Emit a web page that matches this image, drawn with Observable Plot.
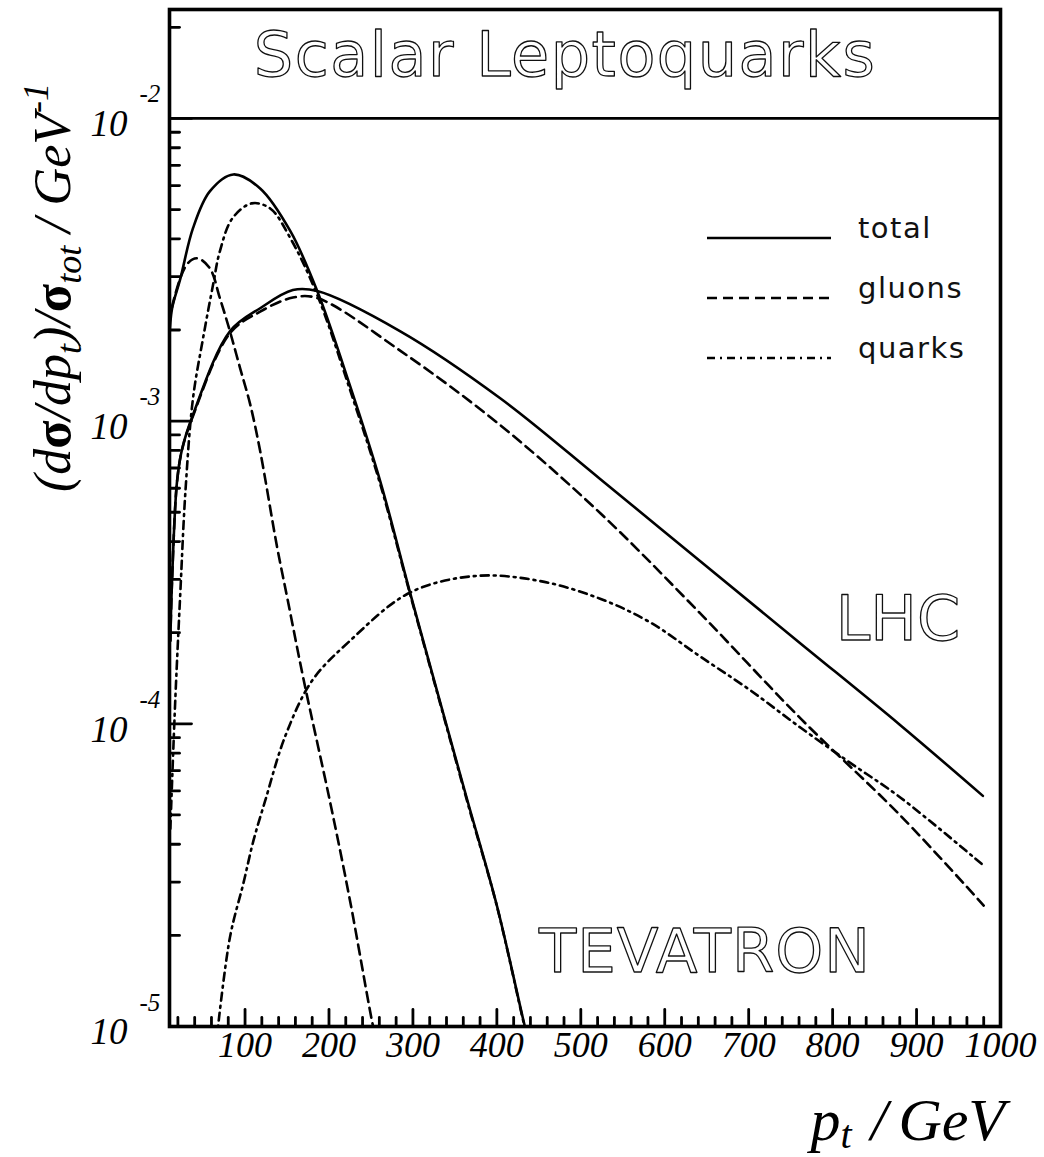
<!DOCTYPE html>
<html>
<head>
<meta charset="utf-8">
<script src="https://cdn.jsdelivr.net/npm/d3@7"></script>
<script src="https://cdn.jsdelivr.net/npm/@observablehq/plot@0.6"></script>
<style>
  html, body { margin: 0; padding: 0; background: #fff; }
  #chart svg { display: block; }
</style>
</head>
<body>
<div id="chart"></div>
<script>
// Transverse-momentum spectra of scalar leptoquark pairs, normalised to the
// total cross section, at the Tevatron and the LHC (pt in GeV).

// Tevatron: total
const tevTotalPt  = [10, 13, 23, 38, 58, 86, 118, 154, 186, 225, 261, 296, 332, 365, 400, 433, 440];
const tevTotalVal = [1.91e-3, 2.35e-3, 2.96e-3, 4.34e-3, 5.74e-3, 6.53e-3, 5.87e-3, 4.24e-3, 2.69e-3, 1.31e-3, 6.34e-4, 2.75e-4, 1.19e-4, 5.57e-5, 2.51e-5, 1.01e-5, 8.5e-6];
// Tevatron: gluon-initiated part
const tevGluonPt  = [10, 14, 31, 43, 58, 70, 82, 94, 106, 118, 138, 151, 170, 201, 225, 251, 258];
const tevGluonVal = [2.1e-3, 2.45e-3, 3.30e-3, 3.45e-3, 3.20e-3, 2.55e-3, 1.98e-3, 1.50e-3, 1.14e-3, 7.96e-4, 3.86e-4, 2.55e-4, 1.39e-4, 5.57e-5, 2.61e-5, 1.05e-5, 8.5e-6];
// Tevatron: quark-initiated part
const tevQuarkPt  = [11, 17, 23, 29, 38, 50, 62, 70, 85, 108, 130, 154, 186, 225, 261, 296, 332, 365, 400, 433, 440];
const tevQuarkVal = [4.5e-5, 1.22e-4, 2.75e-4, 5.87e-4, 1.19e-3, 1.88e-3, 2.83e-3, 3.64e-3, 4.68e-3, 5.24e-3, 5.04e-3, 4.02e-3, 2.61e-3, 1.27e-3, 6.2e-4, 2.72e-4, 1.18e-4, 5.5e-5, 2.5e-5, 1.0e-5, 8.4e-6];

// LHC: total
const lhcTotalPt  = [11, 13, 19, 25, 38, 82, 118, 157, 186, 285, 404, 523, 642, 761, 880, 979];
const lhcTotalVal = [1.88e-4, 2.96e-4, 6.34e-4, 8.09e-4, 1.05e-3, 1.98e-3, 2.36e-3, 2.71e-3, 2.69e-3, 1.98e-3, 1.19e-3, 6.44e-4, 3.45e-4, 1.85e-4, 9.93e-5, 5.78e-5];
// LHC: gluon-initiated part
const lhcGluonPt  = [11, 13, 19, 25, 38, 82, 118, 157, 186, 286, 404, 523, 642, 762, 881, 980];
const lhcGluonVal = [1.88e-4, 2.96e-4, 6.3e-4, 8.05e-4, 1.04e-3, 1.95e-3, 2.30e-3, 2.56e-3, 2.55e-3, 1.70e-3, 9.70e-4, 4.97e-4, 2.32e-4, 1.04e-4, 4.97e-5, 2.51e-5];
// LHC: quark-initiated part
const lhcQuarkPt  = [66, 82, 98, 110, 124, 148, 180, 225, 296, 375, 452, 523, 583, 642, 702, 762, 821, 881, 980];
const lhcQuarkVal = [9.0e-6, 1.97e-5, 2.97e-5, 4.11e-5, 5.57e-5, 9.12e-5, 1.39e-4, 1.88e-4, 2.71e-4, 3.08e-4, 2.96e-4, 2.59e-4, 2.16e-4, 1.67e-4, 1.29e-4, 9.70e-5, 7.43e-5, 5.70e-5, 3.40e-5];

// Axis ticks
const xMajor = [100, 200, 300, 400, 500, 600, 700, 800, 900];
const xLabels = [100, 200, 300, 400, 500, 600, 700, 800, 900, 1000];
const xMinor = d3.range(20, 1000, 20).filter(v => v % 100 !== 0);
const yDecades = [1e-5, 1e-4, 1e-3, 1e-2];
const yExponents = ["-5", "-4", "-3", "-2"];
const yMinor = [];
for (const d of [1e-5, 1e-4, 1e-3, 1e-2]) for (let k = 2; k <= 9; k++) if (d * k < 0.0229) yMinor.push(d * k);

const curveSeries = [
  {pt: tevTotalPt, val: tevTotalVal, dash: null},
  {pt: tevGluonPt, val: tevGluonVal, dash: "10,6"},
  {pt: tevQuarkPt, val: tevQuarkVal, dash: "8,5,2,5"},
  {pt: lhcTotalPt, val: lhcTotalVal, dash: null},
  {pt: lhcGluonPt, val: lhcGluonVal, dash: "10,6"},
  {pt: lhcQuarkPt, val: lhcQuarkVal, dash: "8,5,2,5"}
];

const serif = "'Liberation Serif', 'Times New Roman', serif";

// A short straight stroke used for the inward-pointing tick marks
const tickShape = {draw(context, l) { context.moveTo(0, 0); context.lineTo(0, -l); }};

const lineMarks = curveSeries.map(s =>
  Plot.line(s.pt.map((p, i) => ({pt: p, v: s.val[i]})), {
    x: "pt", y: "v", curve: "catmull-rom", stroke: "#000", strokeWidth: 2.6,
    strokeDasharray: s.dash, clip: true
  })
);

const chart = Plot.plot({
  width: 1044,
  height: 1157,
  marginLeft: 169,
  marginRight: 44,
  marginTop: 9,
  marginBottom: 131,
  x: {domain: [10, 1000], axis: null},
  y: {type: "log", domain: [1e-5, 0.0229], axis: null},
  style: {background: "#fff", color: "#000"},
  marks: [
    ...lineMarks,
    Plot.ruleY([1e-2], {stroke: "#000", strokeWidth: 2.6}),
    // x ticks (pointing up into the frame)
    Plot.vector(xMajor, {x: d => d, frameAnchor: "bottom", length: 17, anchor: "start", shape: tickShape, stroke: "#000", strokeWidth: 2.8}),
    Plot.vector(xMinor, {x: d => d, frameAnchor: "bottom", length: 9, anchor: "start", shape: tickShape, stroke: "#000", strokeWidth: 2.8}),
    // y ticks (pointing right into the frame)
    Plot.vector(yDecades, {y: d => d, frameAnchor: "left", length: 22, rotate: 90, anchor: "start", shape: tickShape, stroke: "#000", strokeWidth: 2.8}),
    Plot.vector(yMinor, {y: d => d, frameAnchor: "left", length: 10, rotate: 90, anchor: "start", shape: tickShape, stroke: "#000", strokeWidth: 2.8}),
    Plot.frame({stroke: "#000", strokeWidth: 3.6}),
    // tick labels
    Plot.text(xLabels, {x: d => d, frameAnchor: "bottom", dy: 30, text: d => String(d), fontFamily: serif, fontStyle: "italic", fontSize: 36, fill: "#000"}),
    Plot.text(yDecades, {y: d => d, frameAnchor: "left", dx: -42, dy: 6, textAnchor: "end", text: () => "10", fontFamily: serif, fontStyle: "italic", fontSize: 37, fill: "#000"}),
    Plot.text(yDecades, {y: d => d, frameAnchor: "left", dx: -30, dy: -24, textAnchor: "start", text: (d, i) => yExponents[i], fontFamily: serif, fontStyle: "italic", fontSize: 25, fill: "#000"})
  ]
});

document.getElementById("chart").appendChild(chart);

// Annotations: title, labels, legend and axis titles
const svg = d3.select(chart);
const outlined = sel => sel
  .attr("font-family", "'DejaVu Sans', 'Noto Sans', sans-serif")
  .attr("fill", "#fff").attr("stroke", "#111").attr("stroke-width", 1.3)
  .attr("stroke-linejoin", "round");

svg.append("text").call(outlined)
  .attr("x", 565).attr("y", 76).attr("text-anchor", "middle").attr("font-size", 62)
  .attr("letter-spacing", 1.5)
  .text("Scalar Leptoquarks");
svg.append("text").call(outlined)
  .attr("x", 898).attr("y", 640).attr("text-anchor", "middle").attr("font-size", 62)
  .text("LHC");
svg.append("text").call(outlined)
  .attr("x", 705).attr("y", 972).attr("text-anchor", "middle").attr("font-size", 61)
  .attr("letter-spacing", 1)
  .text("TEVATRON");

const legendRows = [
  {label: "total", dash: null, y: 238},
  {label: "gluons", dash: "10,6", y: 298},
  {label: "quarks", dash: "8,5,2,5", y: 358}
];
const lg = svg.append("g");
legendRows.forEach(r => {
  lg.append("line").attr("x1", 707).attr("x2", 831).attr("y1", r.y).attr("y2", r.y)
    .attr("stroke", "#000").attr("stroke-width", 2.6).attr("stroke-dasharray", r.dash);
  lg.append("text").attr("x", 858).attr("y", r.y).attr("text-anchor", "start")
    .attr("font-family", "'DejaVu Sans', sans-serif").attr("font-size", 29)
    .attr("letter-spacing", 1.5).attr("fill", "#111")
    .text(r.label);
});

// x-axis title: p_t / GeV
const xt = svg.append("text").attr("x", 1005).attr("y", 1140).attr("text-anchor", "end")
  .attr("font-family", serif).attr("font-style", "italic").attr("font-size", 60).attr("fill", "#000");
xt.append("tspan").text("p");
xt.append("tspan").attr("dy", 8).attr("font-size", 40).text("t");
xt.append("tspan").attr("dy", -8).attr("dx", 4).text(" / ");
xt.append("tspan").attr("dx", -4).text("GeV");

// y-axis title: (dσ/dp_t)/σ_tot / GeV^-1
const yt = svg.append("text").attr("transform", "translate(70,492) rotate(-90)").attr("text-anchor", "start")
  .attr("font-family", serif).attr("font-style", "italic").attr("font-size", 52).attr("fill", "#000");
yt.append("tspan").text("(d");
yt.append("tspan").attr("font-style", "normal").attr("font-weight", "bold").text("σ");
yt.append("tspan").text("/dp");
yt.append("tspan").attr("dy", 11).attr("font-size", 36).text("t");
yt.append("tspan").attr("dy", -11).text(")/");
yt.append("tspan").attr("font-style", "normal").attr("font-weight", "bold").text("σ");
yt.append("tspan").attr("dy", 11).attr("font-size", 36).text("tot");
yt.append("tspan").attr("dy", -11).text(" / GeV");
yt.append("tspan").attr("dy", -22).attr("font-size", 36).text("-1");
</script>
</body>
</html>
